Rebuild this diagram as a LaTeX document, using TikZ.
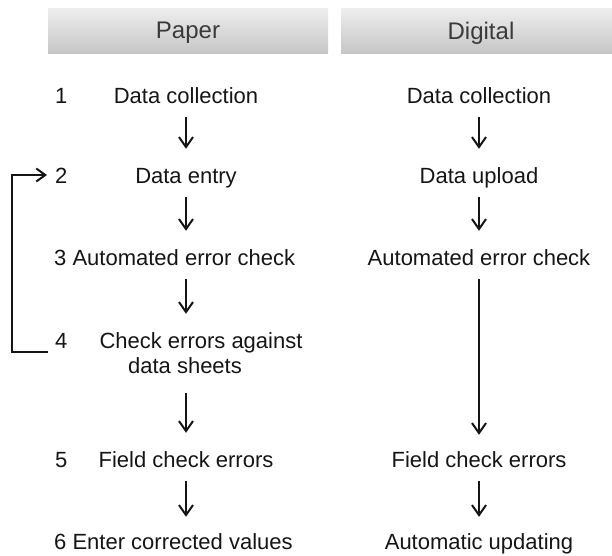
\documentclass[tikz,border=0pt]{standalone}
\usepackage{fontspec}
\setmainfont{Liberation Sans}
\usetikzlibrary{arrows.meta}
\definecolor{hdtop}{HTML}{EEEEEE}
\definecolor{hdbot}{HTML}{C6C6C6}
\definecolor{ink}{HTML}{151515}
\definecolor{hdink}{HTML}{3A3A3A}
\begin{document}
\begin{tikzpicture}[x=1pt,y=-1pt,
  txt/.style={inner sep=0pt, font=\fontsize{22}{25}\selectfont, text=ink, anchor=base, text height=16pt, text depth=5pt},
  hdr/.style={inner sep=0pt, minimum height=45pt, top color=hdtop, bottom color=hdbot, font=\fontsize{24}{28}\selectfont, text=hdink, text depth=0pt},
  flow/.style={draw=ink, line width=2pt, -{Straight Barb[length=10pt,width=14pt,line width=2pt]}, shorten <=9pt, shorten >=18pt},
  loopline/.style={draw=ink, line width=2pt, -{Straight Barb[length=9pt,width=13pt,line width=2pt]}}
]
\useasboundingbox (0,0) rectangle (612,555);
% headers
\node[hdr, minimum width=280pt] (hp) at (188,30.5) {Paper};
\node[hdr, minimum width=280pt] (hd) at (481,30.5) {Digital};
% left column
\node[txt,anchor=base west] (n1) at (55,103) {1};
\node[txt] (p1) at (186,103) {Data collection};
\node[txt,anchor=base west] (n2) at (55,183) {2};
\node[txt] (p2) at (186,183) {Data entry};
\node[txt,anchor=base west] (p3) at (54,265) {3 Automated error check};
\node[txt,anchor=base west] (n4) at (55,348) {4};
\node[inner sep=0pt, font=\fontsize{22}{25}\selectfont, text=ink, anchor=base, align=center] (p4) at (201,373) {Check errors against\\data sheets\hspace*{32pt}};
\node[txt,anchor=base west] (n5) at (55,467) {5};
\node[txt] (p5) at (186,467) {Field check errors};
\node[txt,anchor=base west] (p6) at (54,549) {6 Enter corrected values};
% right column
\node[txt] (d1) at (479,103) {Data collection};
\node[txt] (d2) at (479,183) {Data upload};
\node[txt] (d3) at (479,265) {Automated error check};
\node[txt] (d5) at (479,467) {Field check errors};
\node[txt] (d6) at (479,549) {Automatic updating};
% left arrows
\draw[flow] (p1.south) -- (p2.north);
\draw[flow] (p2.south) -- (p2.south |- p3.north);
\draw[flow] (p2.south |- p3.south) -- (p2.south |- n4.north);
\draw[flow, shorten <=20pt] (p2.south |- p4.south) -- (p5.north);
\draw[flow, shorten >=16pt] (p5.south) -- (p5.south |- p6.north);
% right arrows
\draw[flow] (d1.south) -- (d2.north);
\draw[flow] (d2.south) -- (d3.north);
\draw[flow, shorten >=16pt] (d3.south) -- (d5.north);
\draw[flow, shorten >=16pt] (d5.south) -- (d6.north);
% feedback loop
\coordinate (lx) at (12,0);
\coordinate (lb) at ([shift={(-7pt,-4pt)}]n4.base west);
\coordinate (lt) at ([shift={(-8pt,2.5pt)}]n2.west);
\draw[loopline] (lb) -- (lb -| lx) |- (lt);
\end{tikzpicture}
\end{document}
